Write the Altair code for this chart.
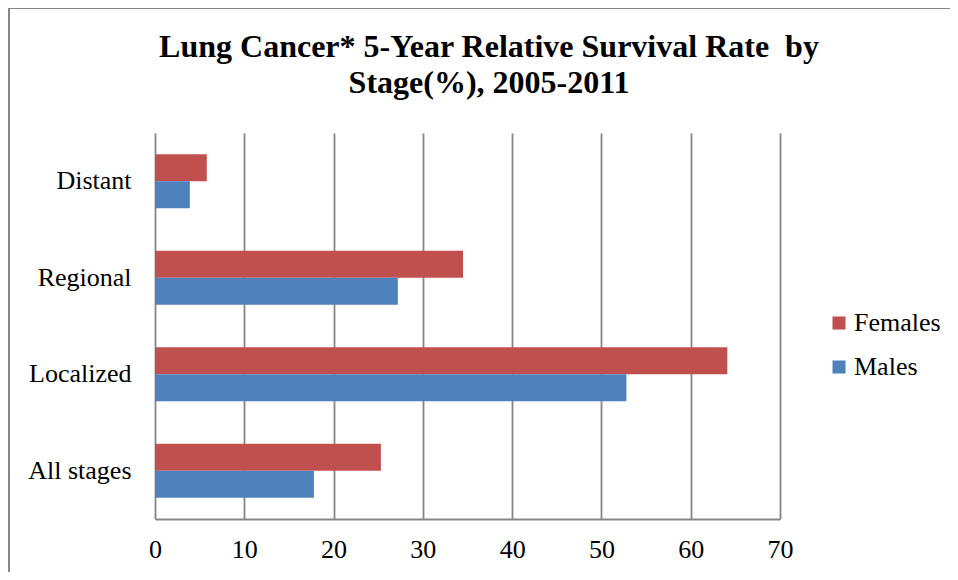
import altair as alt
import pandas as pd

stages = ["Distant", "Regional", "Localized", "All stages"]
females = [5.8, 34.5, 64.1, 25.3]
males = [3.9, 27.2, 52.8, 17.8]
series = ["Females", "Males"]
colors = ["#C0504D", "#4F81BD"]
title_lines = ["Lung Cancer* 5-Year Relative Survival Rate\u00a0 by", "Stage(%), 2005-2011"]

rows = []
for i, s in enumerate(stages):
    rows.append({"stage": s, "sex": "Females", "value": females[i]})
    rows.append({"stage": s, "sex": "Males", "value": males[i]})
df = pd.DataFrame(rows)

FONT = "Liberation Serif"
W, H = 625, 386

bars = alt.Chart(df).mark_bar().encode(
    x=alt.X("value:Q", scale=alt.Scale(domain=[0, 70], nice=False),
            axis=alt.Axis(values=[0, 10, 20, 30, 40, 50, 60, 70], title=None,
                          grid=True, gridColor="#868686", gridWidth=1.8,
                          domainColor="#868686", domainWidth=1.8,
                          ticks=False, labelFont=FONT, labelFontSize=26,
                          labelColor="#000000", labelPadding=17,
                          labelFlush=False, labelOverlap=False)),
    y=alt.Y("stage:N", sort=stages,
            scale=alt.Scale(paddingInner=0.44, paddingOuter=0.22),
            axis=alt.Axis(title=None, ticks=False, domain=False,
                          labelFont=FONT, labelFontSize=26, labelColor="#000000",
                          labelPadding=24)),
    yOffset=alt.YOffset("sex:N", sort=series),
    color=alt.Color("sex:N", sort=series,
                    scale=alt.Scale(domain=series, range=colors),
                    legend=alt.Legend(title=None, orient="none", legendX=671, legendY=177,
                                      symbolType="square", symbolSize=170,
                                      symbolStrokeWidth=0,
                                      labelFont=FONT, labelFontSize=26,
                                      labelColor="#000000", rowPadding=18,
                                      labelOffset=2)),
)

frame = alt.Data(values=[{}])
left_line = alt.Chart(frame).mark_rule(color="#868686", strokeWidth=2).encode(
    x=alt.value(-146), y=alt.value(-125), y2=alt.value(H + 80))
top_line = alt.Chart(frame).mark_rule(color="#868686", strokeWidth=2).encode(
    x=alt.value(-147), x2=alt.value(W + 200), y=alt.value(-125))

t1 = alt.Chart(alt.Data(values=[{"t": title_lines[0]}])).mark_text(
    font=FONT, fontSize=32, fontWeight="bold", color="#000000",
    align="center", baseline="middle").encode(
    text="t:N", x=alt.value(334), y=alt.value(-86))
t2 = alt.Chart(alt.Data(values=[{"t": title_lines[1]}])).mark_text(
    font=FONT, fontSize=32, fontWeight="bold", color="#000000",
    align="center", baseline="middle").encode(
    text="t:N", x=alt.value(334), y=alt.value(-50))

chart = alt.layer(bars, left_line, top_line, t1, t2).properties(
    width=W, height=H,
    autosize=alt.AutoSizeParams(type="none"),
    padding={"left": 147, "top": 125, "right": 170, "bottom": 53},
).configure_view(stroke=None)

chart.save("out.html", embed_options={"renderer": "svg", "actions": False})
